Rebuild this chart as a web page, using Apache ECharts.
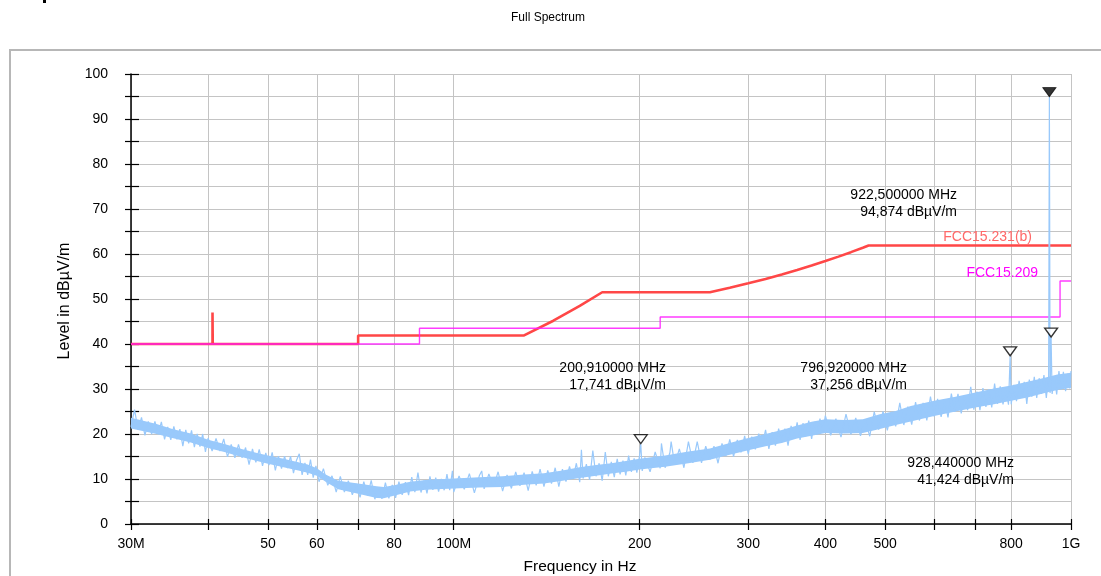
<!DOCTYPE html>
<html>
<head>
<meta charset="utf-8">
<script src="https://cdn.jsdelivr.net/npm/echarts@6/dist/echarts.min.js"></script>
<style>
  html, body { margin: 0; padding: 0; background: #fff; }
  #chart { width: 1101px; height: 576px; }
</style>
</head>
<body>
<div id="chart"></div>
<script>
// Measured emission trace: frequency in MHz, level in dBµV/m
const traceMHz = [
  30,30.4,30.8,31.2,31.6,32,32.4,32.8,33.2,33.6,34,34.4,34.8,35.2,35.6,36,36.4,36.8,37.2,37.6,38,38.4,38.8,39.2,39.6,
  40,40.6,41.2,41.8,42.4,43,43.6,44.2,44.8,45.4,46,46.6,47.2,47.8,48.4,49,49.6,50.2,50.8,51.4,52,52.6,53.2,53.8,54.4,55,55.6,56.2,56.8,57.4,58,58.6,59.2,59.8,
  60.5,61.5,62.5,63.5,64.5,65.5,66.5,67.5,68.5,69.5,70.5,71.5,72.5,73.5,74.5,75.5,76.5,77.5,78.5,79.5,
  80.5,81.5,82.5,83.5,84.5,85.5,86.5,87.5,88.5,89.5,90.5,91.5,92.5,93.5,94.5,95.5,96.5,97.5,98.5,99.5,
  100,102,104,106,108,110,111,112,114,116,118,120,122,124,126,128,130,132,134,136,138,140,142,144,146,148,
  150,152,154,156,158,160,161,162,164,166,168,170,172,174,176,178,180,182,184,186,188,190,192,194,196,198,
  200,200.91,202,204,208,212,216,217,220,224,225,228,232,236,240,244,248,252,256,260,264,268,272,276,280,284,288,292,296,
  300,304,308,312,316,320,324,328,332,336,340,344,348,352,356,360,364,368,372,376,380,384,388,392,396,
  400,408,416,424,432,440,448,456,464,472,480,488,496,504,512,520,528,536,544,552,560,568,576,584,592,
  600,608,616,624,632,640,648,656,664,672,680,688,696,704,712,720,728,736,744,752,760,768,776,784,792,796.92,
  800,808,816,824,832,840,848,856,864,872,880,888,896,904,912,920,922.5,925,928.44,932,940,948,956,964,972,980,988,996,1000
];
const traceLevel = [
  21.6,25.4,20.9,23.7,19.7,22.8,20.0,22.8,20.0,22.7,18.8,21.6,18.7,21.7,18.8,21.1,17.3,20.9,17.9,20.8,17.1,20.0,17.2,20.0,16.0,
  19.1,16.2,19.0,16.2,18.9,14.9,17.7,14.7,17.7,14.7,17.0,13.2,16.7,13.7,16.6,12.9,15.8,13.1,15.9,11.9,15.1,12.3,15.1,12.4,15.1,11.3,14.1,15.6,10.9,13.6,10.9,14.3,10.3,12.9,
  9.4,12.3,8.6,10.7,7.1,10.6,7.1,9.6,6.5,8.9,5.9,9.4,6.3,9.7,5.5,8.2,5.6,9.2,5.7,8.7,
  5.8,9.4,6.5,9.3,6.4,10.4,7.1,11.4,7.0,9.7,6.8,10.6,7.6,10.3,7.2,10.0,7.5,11.1,7.5,11.8,
  7.1,10.7,7.7,11.2,6.9,10.7,11.8,7.8,11.1,8.3,11.6,7.3,10.9,7.9,11.6,8.5,11.4,7.4,11.7,8.6,12.2,8.3,11.9,9.0,12.5,8.3,
  12.2,9.4,12.8,10.1,13.5,9.3,16.5,10.1,13.3,9.8,16.3,10.6,13.5,9.6,16.0,10.6,13.8,10.4,14.5,11.0,14.1,10.8,15.2,11.6,14.6,11.4,
  15.2,17.741,11.8,14.8,11.6,16.0,12.4,17.9,12.5,15.9,18.3,13.2,16.7,12.5,18.3,13.6,18.3,13.6,17.3,14.3,17.3,13.5,17.9,15.1,18.8,15.0,18.7,15.9,19.6,
  15.5,19.4,16.6,20.1,17.4,20.9,16.7,20.4,17.4,21.2,18.2,21.2,17.4,21.8,18.9,22.6,18.7,22.4,19.5,23.0,18.9,22.7,19.9,23.4,20.6,
  24.1,19.7,23.4,19.3,24.4,19.9,23.6,19.6,23.2,19.5,24.9,21.0,25.0,20.8,24.9,21.7,26.9,22.0,26.1,22.1,27.1,23.0,26.9,23.0,28.3,
  23.9,27.8,23.8,27.5,23.7,29.0,24.9,28.9,24.6,28.6,25.3,30.5,25.4,29.4,25.3,30.2,26.0,29.9,25.9,31.2,26.7,30.6,26.6,30.2,26.5,37.256,
  26.6,30.9,27.3,31.8,28.1,31.6,26.7,32.1,28.3,32.7,28.0,32.4,28.9,33.1,28.0,32.8,94.874,29.1,41.424,28.9,32.5,28.8,34.0,29.9,33.8,29.5,33.4,30.1,34.0
];

// Core of the noise band (where the trace is densest)
const bandMHz = [30,33,35,37.5,40,42.5,45,48,50,53,56,58,60,62,65,70,75,77,80,85,90,100,110,120,130,140,150,160,170,180,190,200,220,240,260,280,300,320,340,360,380,400,430,460,490,520,550,600,650,700,750,800,850,900,950,1000];
const bandLow = [21.2,20.0,19.1,18.1,16.9,16.0,15.0,14.0,13.4,12.6,11.9,11.4,10.7,9.4,7.7,6.7,5.8,5.7,6.3,7.2,7.6,7.9,8.1,8.2,8.7,9.0,9.6,10.2,10.7,11.2,11.6,12.1,12.7,13.5,14.3,15.4,16.4,17.3,18.0,19.0,19.6,20.2,20.1,20.2,21.1,22.0,22.8,24.0,25.0,25.9,26.6,27.4,28.1,29.0,29.8,30.3];
const bandHigh = [23.6,22.2,21.1,20.1,18.7,17.8,16.8,15.8,15.2,14.5,13.7,13.2,12.4,11.0,9.6,9.0,8.4,8.2,8.6,9.4,9.8,10.1,10.4,10.6,11.0,11.3,11.9,12.6,13.1,13.5,14.0,14.5,15.2,16.1,16.8,18.0,19.1,20.0,20.9,21.9,22.7,23.3,23.1,23.3,24.4,25.1,26.2,27.4,28.3,29.2,30.1,30.8,31.6,32.4,33.2,33.6];

// FCC 15.231(b) limit line
const fcc231MHz = [30,40.66,40.66,40.70,40.70,70,70,130,145,160,174,260,280,300,320,340,360,380,400,420,440,460,470,1000];
const fcc231Level = [40,40,47,47,40,40,41.9,41.9,45.17,48.45,51.5,51.5,52.49,53.48,54.47,55.46,56.45,57.44,58.43,59.42,60.41,61.4,61.9,61.9];

// FCC 15.209 limit line
const fcc209MHz = [30,88,88,216,216,960,960,1000];
const fcc209Level = [40,40,43.5,43.5,46,46,54,54];

// Peak markers
const markerMHz = [922.5, 200.91, 796.92, 928.44];
const markerLevel = [94.874, 17.741, 37.256, 41.424];

// Axis ticks and labels
const xTickValues = [30,40,50,60,70,80,100,200,300,400,500,600,700,800,1000];
const xLabelValues = [30,50,60,80,100,200,300,400,500,800,1000];
const xLabelTexts = ['30M','50','60','80','100M','200','300','400','500','800','1G'];
const yMin = 0, yMax = 100, yStep = 5, yLabelStep = 10;

const FONT = '"Liberation Sans", Arial, sans-serif';
const TRACE_COLOR = '#99c9fb';

function pairs(xs, ys) { return xs.map((x, i) => [x, ys[i]]); }
function comma(v, digits) { return v.toFixed(digits).replace('.', ','); }

const chart = echarts.init(document.getElementById('chart'), null, { renderer: 'canvas' });

const tickStyle = { color: '#000', width: 1.2 };

const xBase = { type: 'log', logBase: 10, min: 30, max: 1000, position: 'bottom', gridIndex: 0 };
const yBase = { type: 'value', min: yMin, max: yMax, interval: yStep, position: 'left', gridIndex: 0 };

// Marker label layout (right edge / top of each two-line block)
const markerLabelLayout = [
  { right: 957, top: 186 },
  { right: 666, top: 359 },
  { right: 907, top: 359 },
  { right: 1014, top: 454 }
];

const markerTexts = markerMHz.map((f, i) =>
  comma(f, 6) + ' MHz\n' + comma(markerLevel[i], 3) + ' dBµV/m');

const markerSymbol = 'path://M0,0 L13,0 L6.5,9 Z';

// Noise band drawn as one polygon: upper envelope left to right, lower envelope back
function renderBand(params, api) {
  if (params.dataIndex !== 0) return null;
  const pts = [];
  for (let i = 0; i < bandMHz.length; i++) pts.push(api.coord([bandMHz[i], bandHigh[i]]));
  for (let i = bandMHz.length - 1; i >= 0; i--) pts.push(api.coord([bandMHz[i], bandLow[i]]));
  return {
    type: 'polygon',
    shape: { points: pts },
    style: { fill: TRACE_COLOR, opacity: 1 },
    silent: true
  };
}

chart.setOption({
  animation: false,
  backgroundColor: '#fff',
  grid: { left: 131, right: 30, top: 74, bottom: 52, containLabel: false },
  xAxis: [
    Object.assign({}, xBase, {
      axisLine: { show: true, onZero: false, lineStyle: { color: '#000', width: 1.5 } },
      axisTick: { show: true, inside: false, length: 6, customValues: xTickValues, lineStyle: tickStyle },
      axisLabel: {
        show: true, margin: 13, customValues: xLabelValues, color: '#000',
        fontSize: 14, fontFamily: FONT,
        formatter: (v) => {
          const i = xLabelValues.findIndex(t => Math.abs(t - v) < t * 1e-6);
          return i >= 0 ? xLabelTexts[i] : '';
        }
      },
      splitLine: { show: true, lineStyle: { color: '#c4c4c4', width: 1 } },
      minorTick: { show: false }, minorSplitLine: { show: false }
    }),
    Object.assign({}, xBase, {
      axisLine: { show: false, onZero: false },
      axisTick: { show: true, inside: true, length: 5, customValues: xTickValues, lineStyle: tickStyle },
      axisLabel: { show: false },
      splitLine: { show: false }
    })
  ],
  yAxis: [
    Object.assign({}, yBase, {
      axisLine: { show: true, onZero: false, lineStyle: { color: '#000', width: 1.5 } },
      axisTick: { show: true, inside: false, length: 6, lineStyle: tickStyle },
      axisLabel: {
        show: true, margin: 23, color: '#000', fontSize: 14, fontFamily: FONT,
        formatter: (v) => (v % yLabelStep === 0 ? String(v) : '')
      },
      splitLine: { show: true, lineStyle: { color: '#c4c4c4', width: 1 } }
    }),
    Object.assign({}, yBase, {
      axisLine: { show: false, onZero: false },
      axisTick: { show: true, inside: true, length: 8, lineStyle: tickStyle },
      axisLabel: { show: false },
      splitLine: { show: false }
    })
  ],
  series: [
    {
      name: 'FCC15.231(b)', type: 'line', xAxisIndex: 0, yAxisIndex: 0,
      data: pairs(fcc231MHz, fcc231Level), showSymbol: false, symbol: 'none',
      lineStyle: { color: '#ff4747', width: 2.6 }, z: 2
    },
    {
      name: 'FCC15.209', type: 'line', xAxisIndex: 0, yAxisIndex: 0,
      data: pairs(fcc209MHz, fcc209Level), showSymbol: false, symbol: 'none',
      lineStyle: { color: '#ff1aff', width: 1.4, opacity: 0.85 }, z: 3
    },
    {
      name: 'Band', type: 'custom', xAxisIndex: 0, yAxisIndex: 0,
      data: bandMHz.map((f, i) => [f, bandLow[i], bandHigh[i]]),
      encode: { x: 0, y: [1, 2] },
      renderItem: renderBand, z: 4
    },
    {
      name: 'Trace', type: 'line', xAxisIndex: 0, yAxisIndex: 0,
      data: pairs(traceMHz, traceLevel), showSymbol: false, symbol: 'none',
      sampling: 'none',
      lineStyle: { color: TRACE_COLOR, width: 1.2 }, z: 5
    },
    {
      name: 'Markers', type: 'scatter', xAxisIndex: 0, yAxisIndex: 0,
      symbol: markerSymbol, symbolSize: [13, 9], symbolOffset: [0, -5],
      data: markerMHz.map((f, i) => ({
        value: [f, markerLevel[i]],
        itemStyle: i === 0
          ? { color: '#000', borderColor: '#000', borderWidth: 1 }
          : { color: '#fff', borderColor: '#000', borderWidth: 1.3 }
      })),
      z: 6
    }
  ],
  graphic: [
    { type: 'rect', shape: { x: 10, y: 50, width: 1200, height: 600 },
      style: { fill: 'none', stroke: '#b7b7b7', lineWidth: 2 }, silent: true, z: -10 },
    { type: 'rect', shape: { x: 43, y: 0, width: 3, height: 3 }, style: { fill: '#000' }, silent: true },
    { type: 'text', x: 548, y: 18,
      style: { text: 'Full Spectrum', font: '12px ' + FONT, fill: '#000', textAlign: 'center', textVerticalAlign: 'middle' } },
    { type: 'text', x: 580, y: 567,
      style: { text: 'Frequency in Hz', font: '15.5px ' + FONT, fill: '#000', textAlign: 'center', textVerticalAlign: 'middle' } },
    { type: 'text', x: 65, y: 301, rotation: Math.PI / 2,
      style: { text: 'Level in dBµV/m', font: '16px ' + FONT, fill: '#000', textAlign: 'center', textVerticalAlign: 'middle' } },
    { type: 'text', x: 1032, y: 237,
      style: { text: 'FCC15.231(b)', font: '14px ' + FONT, fill: '#ff6868', textAlign: 'right', textVerticalAlign: 'middle' }, z: 10 },
    { type: 'text', x: 1038, y: 273,
      style: { text: 'FCC15.209', font: '14px ' + FONT, fill: '#ff00ff', textAlign: 'right', textVerticalAlign: 'middle' }, z: 10 }
  ].concat(markerTexts.map((t, i) => ({
    type: 'text', x: markerLabelLayout[i].right, y: markerLabelLayout[i].top, z: 10,
    style: { text: t, font: '14px ' + FONT, fill: '#000', textAlign: 'right', textVerticalAlign: 'top', lineHeight: 17.5 }
  })))
});
</script>
</body>
</html>
